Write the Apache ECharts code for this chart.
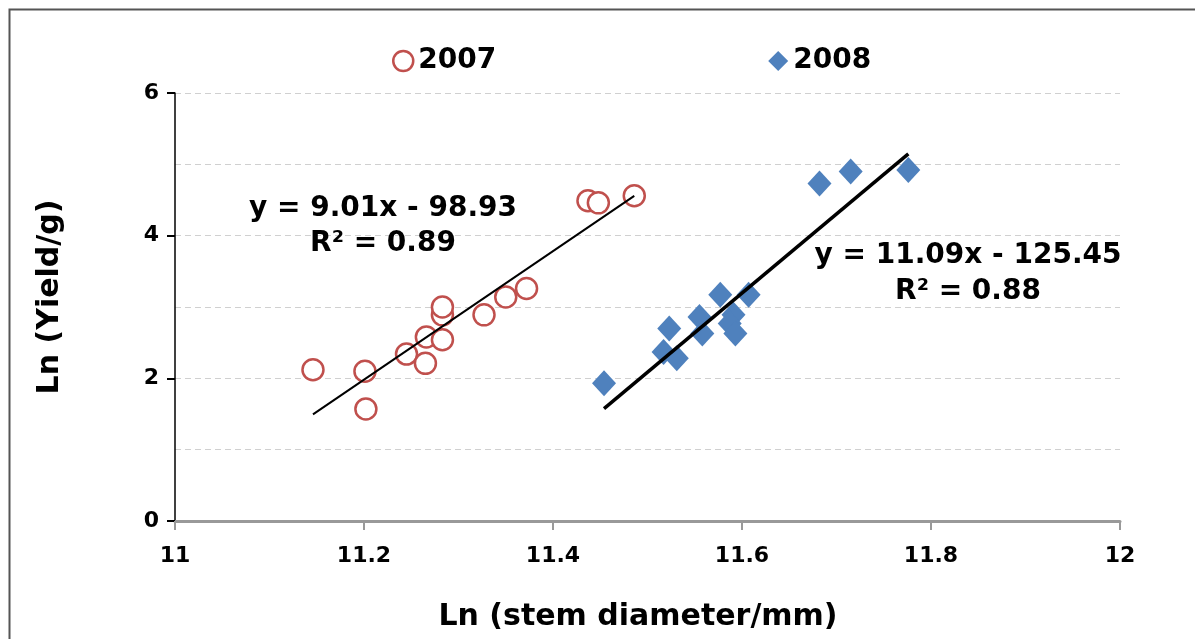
<!DOCTYPE html>
<html>
<head>
<meta charset="utf-8">
<script src="https://cdn.jsdelivr.net/npm/echarts@6/dist/echarts.min.js"></script>
<style>
  html, body { margin: 0; padding: 0; background: #fff; }
  #chart { width: 1195px; height: 639px; }
</style>
</head>
<body>
<div id="chart"></div>
<script>
// Ln(stem diameter/mm) and Ln(yield/g)
var x2007 = [11.146, 11.201, 11.202, 11.245, 11.265, 11.266, 11.283, 11.283, 11.283, 11.327, 11.350, 11.372, 11.437, 11.448, 11.486]
var y2007 = [2.12, 2.10, 1.57, 2.34, 2.21, 2.58, 2.54, 2.89, 3.00, 2.89, 3.14, 3.26, 4.49, 4.46, 4.56]
var x2008 = [11.454, 11.523, 11.517, 11.531, 11.555, 11.558, 11.577, 11.607, 11.591, 11.587, 11.593, 11.682, 11.715, 11.776]
var y2008 = [1.93, 2.70, 2.37, 2.28, 2.86, 2.63, 3.17, 3.17, 2.89, 2.77, 2.63, 4.73, 4.90, 4.92]

// fitted trend lines (slope, intercept) as printed on the chart
var fit2007 = { slope: 9.01, intercept: -98.93, eq: 'y = 9.01x - 98.93', r2: 'R² = 0.89' }
var fit2008 = { slope: 11.09, intercept: -125.45, eq: 'y = 11.09x - 125.45', r2: 'R² = 0.88' }

var FONT = '"DejaVu Sans", Verdana, sans-serif'

function pairs(xs, ys) {
  return xs.map(function(x, i) { return [x, ys[i]] })
}
function trend(xs, fit) {
  var lo = Math.min.apply(null, xs)
  var hi = Math.max.apply(null, xs)
  return [[lo, fit.slope * lo + fit.intercept], [hi, fit.slope * hi + fit.intercept]]
}
function label(text, x, y, size, rotation) {
  return {
    type: 'text',
    x: x,
    y: y,
    rotation: rotation || 0,
    style: {
      text: text,
      font: 'bold ' + size + 'px ' + FONT,
      fill: '#000',
      align: 'center',
      verticalAlign: 'middle'
    },
    z: 10
  }
}

var chart = echarts.init(document.getElementById('chart'))
chart.setOption({
  animation: false,
  textStyle: { fontFamily: FONT },
  graphic: [{
    type: 'rect',
    left: 7,
    top: 7,
    shape: { width: 1300, height: 800 },
    style: { fill: 'none', stroke: '#555', lineWidth: 2 },
    z: -1
  },
  label(fit2007.eq, 383, 209, 28),
  label(fit2007.r2, 383, 244, 28),
  label(fit2008.eq, 968, 256, 28),
  label(fit2008.r2, 968, 292, 28),
  label('Ln (Yield/g)', 50, 297, 30, Math.PI / 2),
  label('Ln (stem diameter/mm)', 638, 617, 30)
  ],
  legend: {
    top: 42,
    left: 387,
    itemGap: 272,
    itemWidth: 20,
    itemHeight: 20,
    textStyle: { fontSize: 28, fontWeight: 'bold', color: '#000', fontFamily: FONT },
    data: [
      { name: '2007', icon: 'circle', itemStyle: { color: '#fff', borderColor: '#C0504D', borderWidth: 2.5 } },
      { name: '2008', icon: 'diamond', itemStyle: { color: '#4F81BD' } }
    ]
  },
  grid: { left: 175, right: 75, top: 93, bottom: 118 },
  xAxis: {
    type: 'value',
    min: 11,
    max: 12,
    interval: 0.2,
    axisLine: { lineStyle: { color: '#999', width: 3 } },
    axisTick: { show: true, length: 9, lineStyle: { color: '#999', width: 2 } },
    axisLabel: {
      fontSize: 22, fontWeight: 'bold', color: '#000', margin: 24,
      formatter: function(v) { return +v.toFixed(1) }
    },
    splitLine: { show: false }
  },
  yAxis: {
    type: 'value',
    min: 0,
    max: 6,
    interval: 2,
    axisLine: { show: true, lineStyle: { color: '#000', width: 1.5 } },
    axisTick: { show: true, length: 8, lineStyle: { color: '#000', width: 2 } },
    axisLabel: { fontSize: 22, fontWeight: 'bold', color: '#000', margin: 16 },
    splitLine: { show: true, lineStyle: { color: '#d0d0d0', type: [6, 4], width: 1 } },
    minorTick: { show: false, splitNumber: 2 },
    minorSplitLine: { show: true, lineStyle: { color: '#d0d0d0', type: [6, 4], width: 1 } }
  },
  series: [{
    name: '2007',
    type: 'scatter',
    symbol: 'circle',
    symbolSize: 21,
    itemStyle: { color: '#fff', borderColor: '#C0504D', borderWidth: 2.5, opacity: 1 },
    data: pairs(x2007, y2007),
    z: 3
  }, {
    name: '2008',
    type: 'scatter',
    symbol: 'diamond',
    symbolSize: [24, 26],
    itemStyle: { color: '#4F81BD', opacity: 1 },
    data: pairs(x2008, y2008),
    z: 3
  }, {
    name: 'trend2007',
    type: 'line',
    symbol: 'none',
    lineStyle: { color: '#000', width: 2 },
    data: trend(x2007, fit2007),
    z: 4
  }, {
    name: 'trend2008',
    type: 'line',
    symbol: 'none',
    lineStyle: { color: '#000', width: 3.5 },
    data: trend(x2008, fit2008),
    z: 4
  }]
})
</script>
</body>
</html>
